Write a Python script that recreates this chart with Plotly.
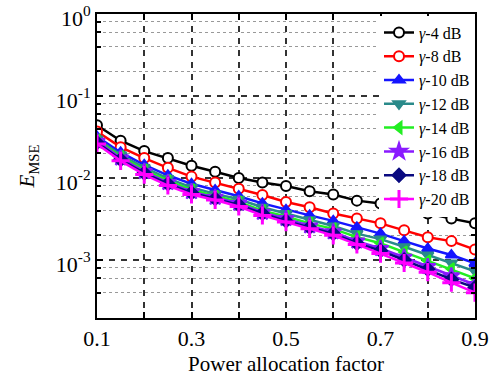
import plotly.graph_objects as go

x_vals = [0.10, 0.15, 0.20, 0.25, 0.30, 0.35, 0.40, 0.45, 0.50,
          0.55, 0.60, 0.65, 0.70, 0.75, 0.80, 0.85, 0.90]

mse_4db = [0.044, 0.0285, 0.0213, 0.0175, 0.0141, 0.0119, 0.0100, 0.0088, 0.0080,
           0.0069, 0.0063, 0.0053, 0.0049, 0.0041, 0.0037, 0.0032, 0.0028]
mse_8db = [0.037, 0.0238, 0.0175, 0.0133, 0.0104, 0.0088, 0.0074, 0.0062, 0.0051,
           0.0044, 0.0037, 0.0032, 0.0028, 0.0023, 0.0019, 0.0017, 0.00134]
mse_10db = [0.032, 0.0205, 0.0145, 0.0108, 0.0085, 0.0071, 0.0060, 0.0049, 0.0041,
            0.0035, 0.0030, 0.0025, 0.0021, 0.0017, 0.00138, 0.00115, 0.00091]
mse_12db = [0.030, 0.0192, 0.0134, 0.0099, 0.0077, 0.0064, 0.0055, 0.0044, 0.0037,
            0.0031, 0.0026, 0.0021, 0.0018, 0.00145, 0.00115, 0.00092, 0.00073]
mse_14db = [0.029, 0.0183, 0.0126, 0.0093, 0.0072, 0.0060, 0.0051, 0.0040, 0.0034,
            0.0028, 0.0024, 0.0019, 0.0016, 0.00125, 0.00098, 0.00078, 0.00060]
mse_16db = [0.028, 0.0175, 0.0120, 0.0088, 0.0068, 0.0058, 0.0049, 0.0038, 0.0032,
            0.0026, 0.0022, 0.0017, 0.00138, 0.00108, 0.00083, 0.00064, 0.00050]
mse_18db = [0.027, 0.0168, 0.0115, 0.0085, 0.0066, 0.0056, 0.0047, 0.0037, 0.0030,
            0.0025, 0.0021, 0.0016, 0.0013, 0.0010, 0.00077, 0.00058, 0.00046]
mse_20db = [0.026, 0.0162, 0.0110, 0.0081, 0.0063, 0.0054, 0.0045, 0.0035, 0.0029,
            0.0024, 0.0020, 0.00155, 0.0012, 0.00092, 0.00071, 0.00053, 0.00040]

series_names = ["<i>γ</i>-4 dB", "<i>γ</i>-8 dB", "<i>γ</i>-10 dB", "<i>γ</i>-12 dB",
                "<i>γ</i>-14 dB", "<i>γ</i>-16 dB", "<i>γ</i>-18 dB", "<i>γ</i>-20 dB"]
series_data = [mse_4db, mse_8db, mse_10db, mse_12db, mse_14db, mse_16db, mse_18db, mse_20db]
colors = ["#000000", "#ff0000", "#1515ff", "#2a8a8a", "#22ee22", "#8a1aff", "#0a0a80", "#ff00ff"]
symbols = ["circle", "circle", "triangle-up", "triangle-down", "triangle-left",
           "star", "diamond", "cross-thin"]
fills = ["#ffffff", "#ffffff", None, None, None, None, None, None]

x_tickvals = [0.1, 0.2, 0.3, 0.4, 0.5, 0.6, 0.7, 0.8, 0.9]
x_ticktext = ["0.1", " ", "0.3", " ", "0.5", " ", "0.7", " ", "0.9"]
y_tickvals = [1, 0.1, 0.01, 0.001]
y_ticktext = ["10<sup>0</sup>", "10<sup>-1</sup>", "10<sup>-2</sup>", "10<sup>-3</sup>"]
y_minor = [m * 10.0 ** e for e in (-4, -3, -2, -1) for m in (2, 4, 6, 8)]

FONT = "Liberation Serif"

fig = go.Figure()
for name, ys, col, sym, fc in zip(series_names, series_data, colors, symbols, fills):
    marker = dict(symbol=sym, size=10 if sym != "star" else 12,
                  color=fc if fc else col,
                  line=dict(color=col, width=2))
    if sym == "cross-thin":
        marker = dict(symbol=sym, size=13, color=col, line=dict(color=col, width=3))
    fig.add_trace(go.Scatter(x=x_vals, y=ys, mode="lines+markers", name=name,
                             line=dict(color=col, width=2.5), marker=marker))

fig.update_layout(
    width=498, height=378,
    margin=dict(l=97, r=23, t=14, b=60),
    paper_bgcolor="white", plot_bgcolor="white",
    font=dict(family=FONT, size=22, color="black"),
    showlegend=True,
    legend=dict(x=1, xanchor="right", y=0.995, yanchor="top",
                bgcolor="white", borderwidth=0,
                font=dict(family=FONT, size=16, color="black"),
                tracegroupgap=0, itemwidth=30),
)
fig.update_xaxes(
    range=[0.1, 0.9], tickmode="array", tickvals=x_tickvals, ticktext=x_ticktext,
    showline=True, linecolor="black", linewidth=2, mirror="allticks",
    ticks="inside", ticklen=6, tickwidth=2, tickcolor="black",
    showgrid=True, gridcolor="#333333", gridwidth=1.5, griddash="6px,6px",
    zeroline=False, ticklabeloverflow="allow", automargin=False,
    title=dict(text="Power allocation factor", font=dict(family=FONT, size=21), standoff=6),
)
fig.update_yaxes(
    type="log", range=[-3.707, 0.0001], tickmode="array", tickvals=y_tickvals, ticktext=y_ticktext,
    showline=True, linecolor="black", linewidth=2, mirror="allticks",
    ticks="inside", ticklen=6, tickwidth=2, tickcolor="black",
    showgrid=True, gridcolor="#333333", gridwidth=1.5, griddash="6px,6px",
    zeroline=False, ticklabeloverflow="allow", automargin=False, ticklabelshift=4,
    minor=dict(tickvals=y_minor, ticks="inside", ticklen=4, tickcolor="black",
               showgrid=True, gridcolor="#999999", griddash="dot", gridwidth=1),
    title=dict(text="<i>E</i><sub>MSE</sub>", font=dict(family=FONT, size=21), standoff=15),
)

fig.write_html("out.html", config={"displayModeBar": False},
               post_script="document.body.style.margin='0';")
